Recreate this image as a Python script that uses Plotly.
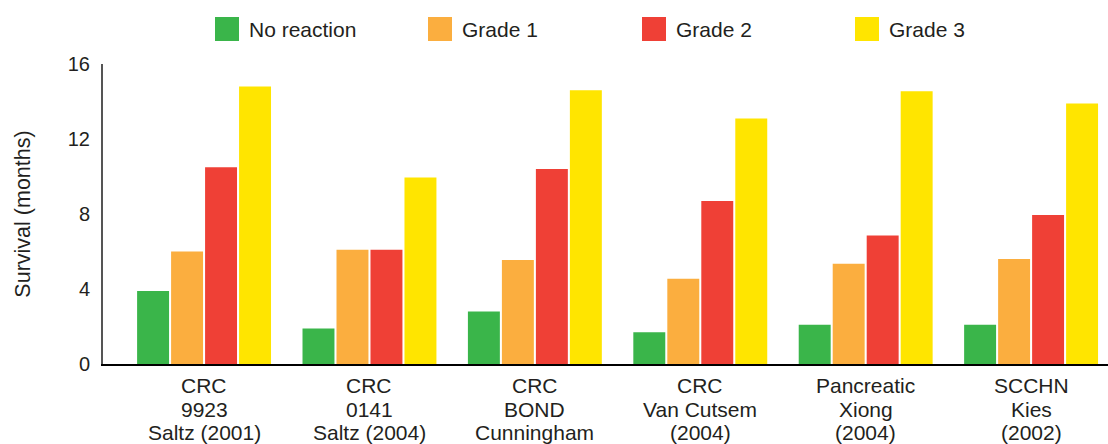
import plotly.graph_objects as go

# ---- data ----
categories = ["CRC 9923", "CRC 0141", "CRC BOND", "CRC Van Cutsem", "Pancreatic Xiong", "SCCHN Kies"]
label_line1 = ["CRC", "CRC", "CRC", "CRC", "Pancreatic", "SCCHN"]
label_line2 = ["9923", "0141", "BOND", "Van Cutsem", "Xiong", "Kies"]
label_line3 = ["Saltz (2001)", "Saltz (2004)", "Cunningham", "(2004)", "(2004)", "(2002)"]

series_names = ["No reaction", "Grade 1", "Grade 2", "Grade 3"]
no_reaction = [3.9, 1.9, 2.8, 1.7, 2.1, 2.1]
grade1 = [6.0, 6.1, 5.55, 4.55, 5.35, 5.6]
grade2 = [10.5, 6.1, 10.4, 8.7, 6.85, 7.95]
grade3 = [14.8, 9.95, 14.6, 13.1, 14.55, 13.9]
series_values = [no_reaction, grade1, grade2, grade3]
colors = ["#3ab54a", "#fbae3f", "#ef4036", "#ffe500"]

y_ticks = [0, 4, 8, 12, 16]
y_title = "Survival (months)"

TEXT = "#231f20"
FONT = "Liberation Sans, Arial, Helvetica, sans-serif"

fig = go.Figure()
for name, vals, col in zip(series_names, series_values, colors):
    fig.add_trace(go.Bar(x=categories, y=vals, name=name, marker_color=col,
                         marker_line_width=0, showlegend=False))

# plot-area geometry (pixels) for the manual legend
W, H = 1108, 444
L, R, T, B = 103, 0, 64, 80
pw, ph = W - L - R, H - T - B

def px_to_paper_x(px):
    return (px - L) / pw

def px_to_paper_y(py):
    return (H - B - py) / ph

shapes = []
annotations = []
legend_left = [215, 428, 642, 855]
sq = 24
for name, col, x0 in zip(series_names, colors, legend_left):
    shapes.append(dict(type="rect", xref="paper", yref="paper",
                       x0=px_to_paper_x(x0), x1=px_to_paper_x(x0 + sq),
                       y0=px_to_paper_y(17 + sq), y1=px_to_paper_y(17),
                       fillcolor=col, line_width=0))
    annotations.append(dict(text=name, xref="paper", yref="paper",
                            x=px_to_paper_x(x0 + sq + 8), y=px_to_paper_y(29.5),
                            xanchor="left", yanchor="middle", showarrow=False,
                            font=dict(size=21, color=TEXT, family=FONT)))

# category labels (three lines each)
line_y = [385, 409, 432]
for cat, l1, l2, l3 in zip(categories, label_line1, label_line2, label_line3):
    for txt, py in zip([l1, l2, l3], line_y):
        annotations.append(dict(text=txt, xref="x", yref="paper", x=cat,
                                y=px_to_paper_y(py), xanchor="center", yanchor="middle",
                                showarrow=False,
                                font=dict(size=21, color=TEXT, family=FONT)))

fig.update_layout(
    width=W, height=H,
    margin=dict(l=L, r=R, t=T, b=B, pad=0),
    paper_bgcolor="white", plot_bgcolor="white",
    barmode="group", bargap=0.178, bargroupgap=0.06,
    font=dict(family=FONT, color=TEXT),
    shapes=shapes, annotations=annotations,
    showlegend=False,
)
fig.update_xaxes(
    type="category", range=[-0.611, 5.465], showticklabels=False,
    showgrid=False, zeroline=False, showline=True, linecolor="#000000", linewidth=2,
    ticks="",
)
fig.update_yaxes(
    range=[0, 16], tickvals=y_ticks, showgrid=False, zeroline=False,
    showline=True, linecolor="#555555", linewidth=2, ticks="",
    ticklabelstandoff=7,
    tickfont=dict(size=20, color=TEXT, family=FONT),
    title=dict(text=y_title, standoff=31, font=dict(size=21.5, color=TEXT, family=FONT)),
)

fig.write_html(
    "out.html",
    config={"displayModeBar": False},
    post_script="document.body.style.margin='0';document.body.style.overflow='hidden';",
)
